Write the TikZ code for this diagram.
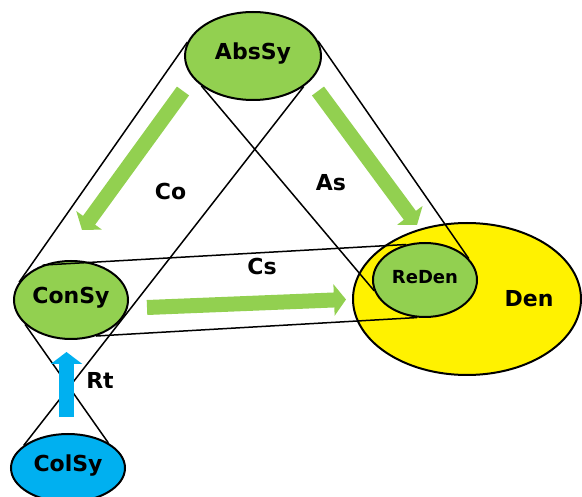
\documentclass[tikz,border=0pt]{standalone}
\usepackage{fontspec}
\setmainfont{DejaVu Sans}
\usetikzlibrary{shapes.geometric,arrows.meta}
\definecolor{sygreen}{HTML}{92D050}
\definecolor{syblue}{HTML}{00B0F0}

\begin{document}
\begin{tikzpicture}[x=1pt,y=-1pt,
	font=\fontsize{22}{26}\selectfont\bfseries,
	sys/.style={ellipse,draw,line width=2pt,inner sep=0pt,text height=0.73em,text depth=0pt},
	lbl/.style={inner sep=0pt,text height=0.73em,text depth=0pt},
	link/.style={line width=1.5pt},
	fat/.style={line width=15pt,-{Triangle[width=31pt,length=12pt]}}]
		\useasboundingbox (0,0) rectangle (582,497);
		
		% Systems
		\node[sys,fill=yellow,minimum width=228pt,minimum height=152pt] (den) at (467,299) {};
		\node[sys,fill=sygreen,minimum width=104pt,minimum height=74pt,font=\fontsize{18}{22}\selectfont\bfseries] (reden) at (425,280) {ReDen};
		\node[sys,fill=sygreen,minimum width=136pt,minimum height=88pt] (abssy) at (253,56) {AbsSy};
		\node[sys,fill=sygreen,minimum width=114pt,minimum height=78pt] (consy) at (71,300) {ConSy};
		\node[sys,fill=syblue,minimum width=114pt,minimum height=68pt] (colsy) at (68,468) {ColSy};
		
		% Lines
		\draw[link] (abssy.168) -- (consy.161);
		\draw[link] (abssy.210) -- (reden.192);
		\draw[link] (abssy.329) -- (colsy.153);
		\draw[link] (abssy.13) -- (reden.26);
		\draw[link] (consy.129) -- (reden.118);
		\draw[link] (consy.305) -- (reden.258);
		\draw[link] (consy.208) -- (colsy.32);
		
		% Arrows
		\coordinate (co-tail) at (183,91);
		\coordinate (co-tip) at (82,230);
		\coordinate (as-tail) at (318,91);
		\coordinate (as-tip) at (417,225);
		\coordinate (cs-tail) at (147,307.5);
		\coordinate (cs-tip) at (346,299.5);
		\coordinate (rt-tail) at (66.5,417);
		\coordinate (rt-tip) at (66.5,352);
		\draw[fat,sygreen] (co-tail) -- (co-tip);
		\draw[fat,sygreen] (as-tail) -- (as-tip);
		\draw[fat,sygreen] (cs-tail) -- (cs-tip);
		\draw[fat,syblue] (rt-tail) -- (rt-tip);
		
		% Labels
		\node[lbl] (co) at (170.5,196) {Co};
		\node[lbl] (as) at (331,186.5) {As};
		\node[lbl] (cs) at (262,271) {Cs};
		\node[lbl] (rt) at (100,385) {Rt};
		\node[lbl] (denlbl) at (529,303) {Den};
		
\end{tikzpicture}
\end{document}
